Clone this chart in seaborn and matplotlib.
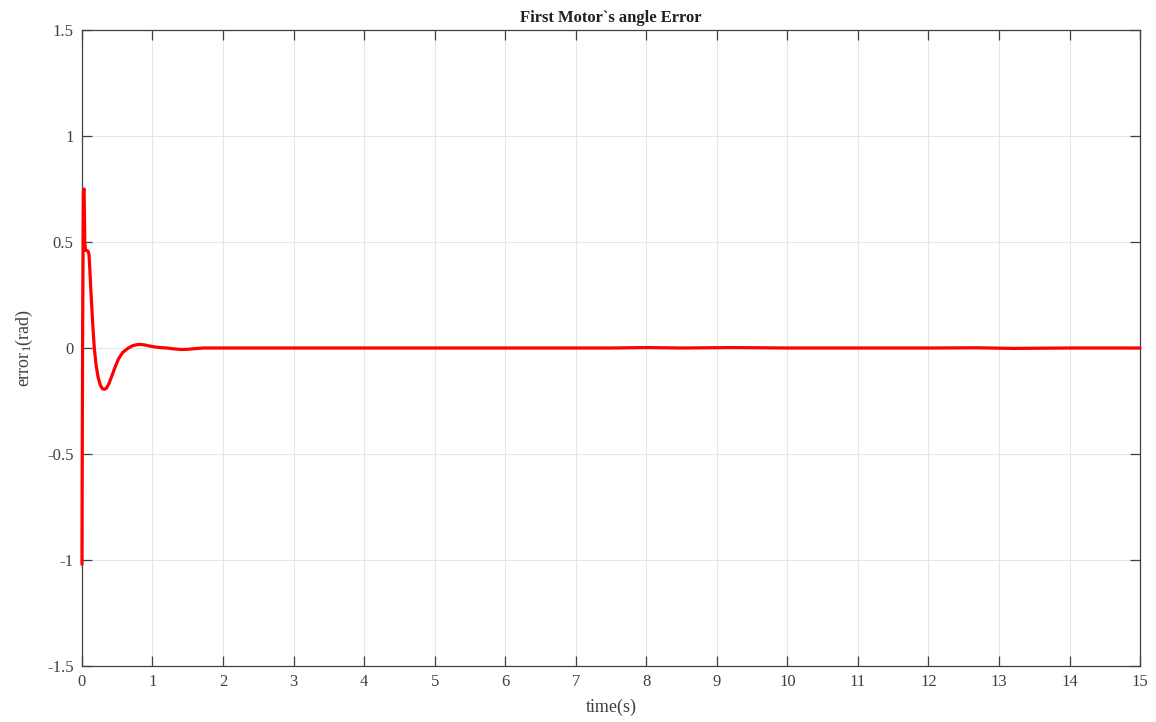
import matplotlib
matplotlib.use("Agg")
import matplotlib.pyplot as plt
import seaborn as sns
import pandas as pd

time_s = [0.0, 0.003, 0.01, 0.02, 0.03, 0.04, 0.05, 0.07, 0.09, 0.10, 0.113, 0.125, 0.137,
          0.155, 0.175, 0.20, 0.23, 0.26, 0.29, 0.317, 0.345, 0.38, 0.42, 0.47, 0.52, 0.58,
          0.657, 0.72, 0.78, 0.82, 0.88, 0.95, 1.03, 1.11, 1.2, 1.3, 1.41, 1.5, 1.6, 1.72,
          2.0, 2.5, 3.0, 4.0, 5.0, 6.0, 7.0, 7.5, 8.0, 8.5, 9.2, 10.0, 11.0, 12.0, 12.7,
          13.2, 14.0, 15.0]
error_rad = [-1.02, -0.6, 0.1, 0.74, 0.75, 0.50, 0.46, 0.46, 0.455, 0.44, 0.36, 0.28, 0.206,
             0.10, 0.0, -0.08, -0.14, -0.175, -0.192, -0.195, -0.19, -0.17, -0.135, -0.09, -0.05,
             -0.02, 0.0, 0.011, 0.016, 0.017, 0.015, 0.01, 0.005, 0.002, 0.0, -0.004, -0.007,
             -0.006, -0.003, 0.0, 0.0, 0.0, 0.0, 0.0, 0.0, 0.0, 0.0, 0.0, 0.002, 0.0, 0.002,
             0.0, 0.0, 0.0, 0.001, -0.002, 0.0, 0.0]

x_ticks = list(range(0, 16))
y_ticks = [-1.5, -1, -0.5, 0, 0.5, 1, 1.5]
y_tick_labels = ["-1.5", "-1", "-0.5", "0", "0.5", "1", "1.5"]

df = pd.DataFrame({"time": time_s, "error": error_rad})

sns.set_style("white")
plt.rcParams["font.family"] = ["Liberation Serif", "DejaVu Serif"]
plt.rcParams["mathtext.fontset"] = "custom"
plt.rcParams["mathtext.rm"] = "Liberation Serif"
plt.rcParams["mathtext.it"] = "Liberation Serif:italic"

fig = plt.figure(figsize=(11.56, 7.22), dpi=100)
ax = fig.add_axes([0.0709, 0.0776, 0.9153, 0.8808])

sns.lineplot(data=df, x="time", y="error", ax=ax, color="#ff0000", linewidth=2.3,
             sort=False, estimator=None, zorder=3)
for ln in ax.lines:
    ln.set_clip_on(False)

ax.set_xlim(0, 15)
ax.set_ylim(-1.5, 1.5)
ax.set_xticks(x_ticks)
ax.set_xticklabels([str(t) for t in x_ticks])
ax.set_yticks(y_ticks)
ax.set_yticklabels(y_tick_labels)
ax.grid(True, color="#e6e6e6", linewidth=0.8)
ax.set_axisbelow(True)
for s in ax.spines.values():
    s.set_color("#404040")
    s.set_linewidth(0.9)
    s.set_visible(True)
    s.set_zorder(2.5)
ax.tick_params(direction="in", length=7.5, width=0.9, color="#404040", labelcolor="#404040",
               labelsize=12, top=True, right=True, bottom=True, left=True, pad=6)

ax.set_title("First Motor`s angle Error", fontsize=12, fontweight="bold", color="#202020", pad=6)
ax.set_xlabel("time(s)", fontsize=13, color="#404040", labelpad=6)
ax.set_ylabel("error$_{\\mathrm{1}}$(rad)", fontsize=13, color="#404040", labelpad=9)

fig.savefig("out.png", dpi=100)
